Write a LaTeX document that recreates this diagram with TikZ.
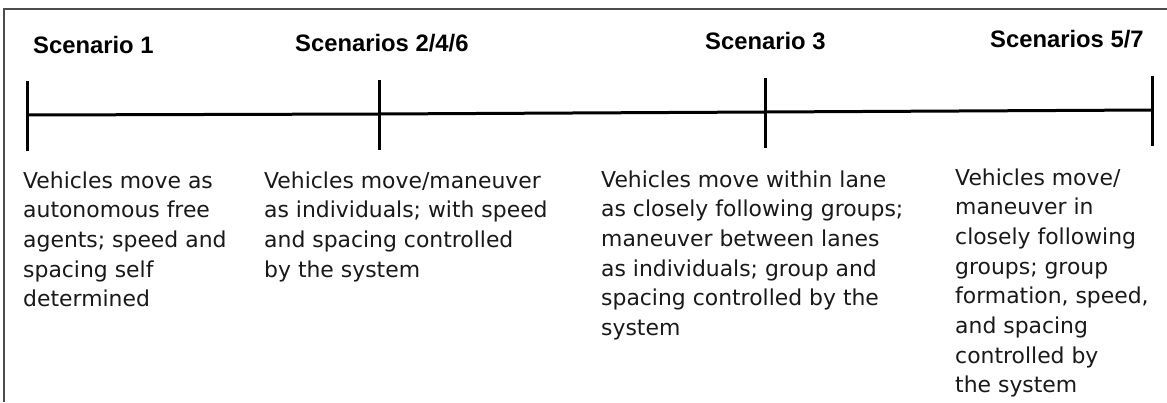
\documentclass[tikz,border=0pt]{standalone}
\usepackage{fontspec}
\setmainfont{DejaVu Sans}
\newfontfamily\titlefont{Liberation Sans}
\begin{document}
\begin{tikzpicture}[x=1pt,y=-1pt,
  title/.style={anchor=base west, inner sep=0pt, text=black,
    font=\titlefont\bfseries\fontsize{23.8}{28}\selectfont},
  body/.style={anchor=base west, inner sep=0pt, text=black!90,
    font=\fontsize{21.9}{29.7}\selectfont},
  timeline/.style={line width=3pt, black},
  tickline/.style={line width=3pt, black},
  frame/.style={line width=2pt, black!70}]
\useasboundingbox (0,0) rectangle (1167,402);
\fill[white] (0,0) rectangle (1167,402);
\draw[frame] (4,402) -- (4,9) -- (1167,9);
% timeline points
\coordinate (p1) at (27,115);
\coordinate (p2) at (379,114);
\coordinate (p3) at (765,112);
\coordinate (p4) at (1152,110);
\draw[timeline] (p1) -- (p2) -- (p3) -- (p4);
\foreach \p in {p1,p2,p3,p4}
  \draw[tickline] ([yshift=-36pt]\p) -- ([yshift=34pt]\p);
% titles
\node[title] (s1) at (33,53) {Scenario 1};
\node[title] (s2) at (295,51) {Scenarios 2/4/6};
\node[title] (s3) at (705,49) {Scenario 3};
\node[title] (s4) at (990,47) {Scenarios 5/7};
% descriptions
\node[body] (d1) at (23,188) {\begin{tabular}[t]{@{}l@{}}Vehicles move as\\autonomous free\\agents; speed and\\spacing self\\determined\end{tabular}};
\node[body] (d2) at (264,188) {\begin{tabular}[t]{@{}l@{}}Vehicles move/maneuver\\as individuals; with speed\\and spacing controlled\\by the system\end{tabular}};
\node[body] (d3) at (601,187) {\begin{tabular}[t]{@{}l@{}}Vehicles move within lane\\as closely following groups;\\maneuver between lanes\\as individuals; group and\\spacing controlled by the\\system\end{tabular}};
\node[body] (d4) at (955,185) {\begin{tabular}[t]{@{}l@{}}Vehicles move/\\maneuver in\\closely following\\groups; group\\formation, speed,\\and spacing\\controlled by\\the system\end{tabular}};
\end{tikzpicture}
\end{document}
